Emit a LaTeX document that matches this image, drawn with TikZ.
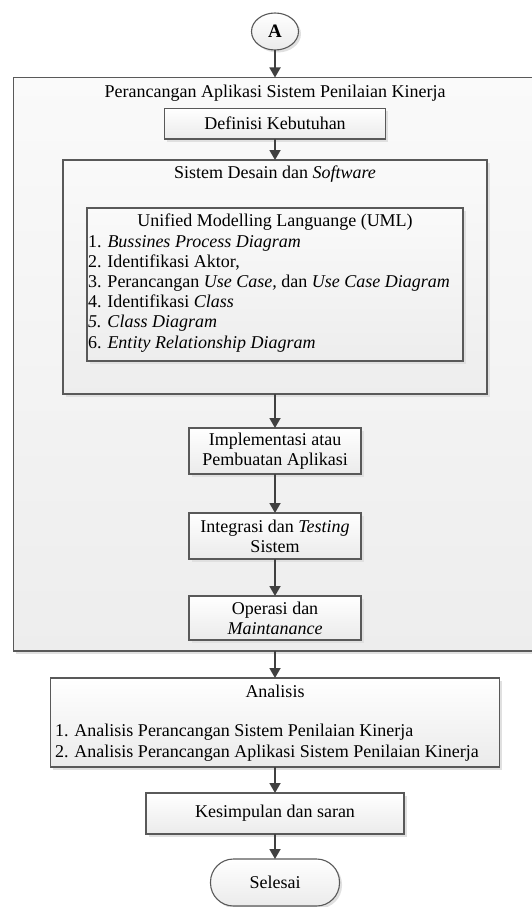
\documentclass[tikz,border=0pt]{standalone}
\usepackage{fontspec}
\setmainfont{Liberation Serif}
\usetikzlibrary{arrows.meta,shadows,shapes.geometric}
\definecolor{bord}{HTML}{595959}
\definecolor{arrc}{HTML}{404040}
\begin{document}
\begin{tikzpicture}[x=1pt,y=-1pt,
  every node/.style={font=\fontsize{18}{20.5}\selectfont, inner sep=0pt, outer sep=0pt},
  boxsh/.style={drop shadow={shadow xshift=2.5pt,shadow yshift=-2.5pt,fill=black!12,opacity=1}},
  procbox/.style={rectangle, draw=bord, line width=1.1pt, top color=white, bottom color=black!8, boxsh},
  contbox/.style={rectangle, draw=bord, line width=1.1pt, top color=black!2, bottom color=black!7, boxsh},
  arr/.style={draw=arrc, line width=1.8pt, -{Triangle[width=11pt,length=10pt]}}
]
\path[use as bounding box] (0,0) rectangle (532,907);
\clip (0,0) rectangle (532,907);

% start connector
\node[ellipse, draw=bord, line width=1.1pt, top color=white, bottom color=black!8, boxsh,
      minimum width=47pt, minimum height=37pt, font=\bfseries\fontsize{19}{20}\selectfont] (A) at (275,31.5) {A};

% outer container
\node[contbox, minimum width=527pt, minimum height=573.5pt] (outer) at (277,364.25) {};
\node (outertitle) at (275,93.5) {Perancangan Aplikasi Sistem Penilaian Kinerja};

\node[procbox, minimum width=221pt, minimum height=30.5pt] (def) at (275,123.75) {Definisi Kebutuhan};

% Sistem Desain container
\node[contbox, minimum width=424pt, minimum height=234pt] (sis) at (275,277) {};
\node (sistitle) at (275,174.5) {Sistem Desain dan \textit{Software}};

% UML box
\node[contbox, minimum width=376pt, minimum height=153pt] (uml) at (275,284.5) {};
\node (umltitle) at (275,222.5) {Unified Modelling Languange (UML)};
\node[anchor=west, align=left, font=\fontsize{18}{20.2}\selectfont] (umllist) at (88,293.5)
  {1. \textit{Bussines Process Diagram}\\
   2. Identifikasi Aktor,\\
   3. Perancangan \textit{Use Case,} dan \textit{Use Case Diagram}\\
   4. Identifikasi \textit{Class}\\
   \textit{5. Class Diagram}\\
   6. \textit{Entity Relationship Diagram}};

\node[procbox, minimum width=172pt, minimum height=46pt, align=center, font=\fontsize{18}{20}\selectfont]
  (imp) at (275,451) {Implementasi atau\\Pembuatan Aplikasi};
\node[procbox, minimum width=172pt, minimum height=46pt, align=center, font=\fontsize{18}{20}\selectfont]
  (int) at (275,536) {Integrasi dan \textit{Testing}\\Sistem};
\node[procbox, minimum width=172pt, minimum height=44pt, align=center, font=\fontsize{18}{20}\selectfont]
  (ope) at (275,618) {Operasi dan\\\textit{Maintanance}};

% Analisis
\node[procbox, minimum width=448.5pt, minimum height=89pt] (ana) at (275,722.5) {};
\node (anatitle) at (275,691.5) {Analisis};
\node[anchor=west, align=left, font=\fontsize{18}{21}\selectfont] (analist) at (55,743)
  {1. Analisis Perancangan Sistem Penilaian Kinerja\\
   2. Analisis Perancangan Aplikasi Sistem Penilaian Kinerja};

\node[procbox, minimum width=258pt, minimum height=41pt] (kes) at (275,813.5) {Kesimpulan dan saran};

\node[rectangle, rounded corners=23pt, draw=bord, line width=1.1pt, top color=white, bottom color=black!8, boxsh,
      minimum width=129pt, minimum height=47pt] (sel) at (275,882.5) {Selesai};

% connectors
\draw[arr] (A) -- (A |- outer.north);
\draw[arr] (def) -- (def |- sis.north);
\draw[arr] (sis.south -| imp) -- (imp);
\draw[arr] (imp) -- (int);
\draw[arr] (int) -- (ope);
\draw[arr] (outer.south -| ope) -- (ana);
\draw[arr] (ana) -- (kes);
\draw[arr] (kes) -- (sel);
\end{tikzpicture}
\end{document}
